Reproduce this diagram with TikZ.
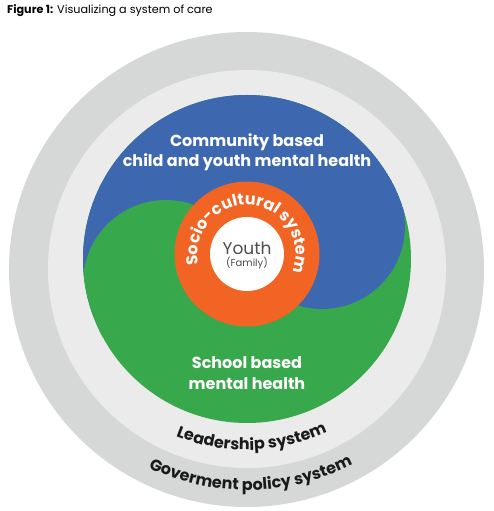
\documentclass[tikz,border=0pt]{standalone}
\usepackage{fontspec}
\setmainfont{Poppins}
\usetikzlibrary{decorations.text}
\definecolor{outergray}{HTML}{D6D7D7}
\definecolor{innergray}{HTML}{EBEBEB}
\definecolor{cblue}{HTML}{3D68B0}
\definecolor{cgreen}{HTML}{38A84C}
\definecolor{corange}{HTML}{F26424}
\definecolor{txtgray}{HTML}{4D4D4D}
\definecolor{txtdark}{HTML}{1A1A1A}
\begin{document}
\begin{tikzpicture}[x=1pt,y=1pt,
  wlabel/.style={text=white,font=\bfseries\fontsize{16}{20.5}\selectfont,align=center},
  arclabel/.style={decorate,decoration={text along path,text align=center,text color=#1}}]
\useasboundingbox (0,0) rectangle (493,511);
\fill[white] (0,0) rectangle (493,511);
\coordinate (outc) at (246.5,241.5);
\coordinate (inc) at (247,242);
\coordinate (bigc) at (247,252);
\coordinate (ctr) at (247,257);
\coordinate (globe) at (166,228);
\coordinate (blobe) at (322,285);
\fill[outergray] (outc) circle (237.5);
\fill[innergray] (inc) circle (199);
\fill[cgreen] (bigc) circle (164);
\begin{scope}
  \clip (bigc) circle (164);
  \begin{scope}
    \clip (-20,153) -- (510,357) -- (510,600) -- (-20,600) -- cycle;
    \fill[cblue] (bigc) circle (164);
  \end{scope}
  \fill[cblue] (blobe) circle (83);
  \fill[cgreen] (globe) circle (83);
\end{scope}
\fill[corange] (ctr) circle (72.5);
\fill[white] (ctr) circle (37);

\node[wlabel] (community) at (247,359) {Community based\\child and youth mental health};
\node[wlabel] (school) at (247,138) {School based\\mental health};
\node[text=txtgray,font=\fontsize{17}{17}\selectfont] (youth) at (247,263) {Youth};
\node[text=txtgray,font=\fontsize{10}{10}\selectfont] (family) at (247,248) {(Family)};

\path[arclabel=white,decoration={text={|\bfseries\fontsize{16}{16}\selectfont|Socio-cultural system}}]
  ([shift={(230:49)}]ctr) arc (230:-59:49);
\path[arclabel=txtdark,decoration={text={|\bfseries\fontsize{16}{16}\selectfont|Leadership system}}]
  ([shift={(201.5:191)}]bigc) arc (201.5:341.5:191);
\path[arclabel=txtdark,decoration={text={|\bfseries\fontsize{16}{16}\selectfont|Goverment policy system}}]
  ([shift={(211:231)}]bigc) arc (211:331:231);

\node[anchor=base west,inner sep=0pt,font=\fontsize{11.2}{11.2}\selectfont,text=black] (caption) at (7,497)
  {\textbf{Figure 1:} Visualizing a system of care};
\end{tikzpicture}
\end{document}
